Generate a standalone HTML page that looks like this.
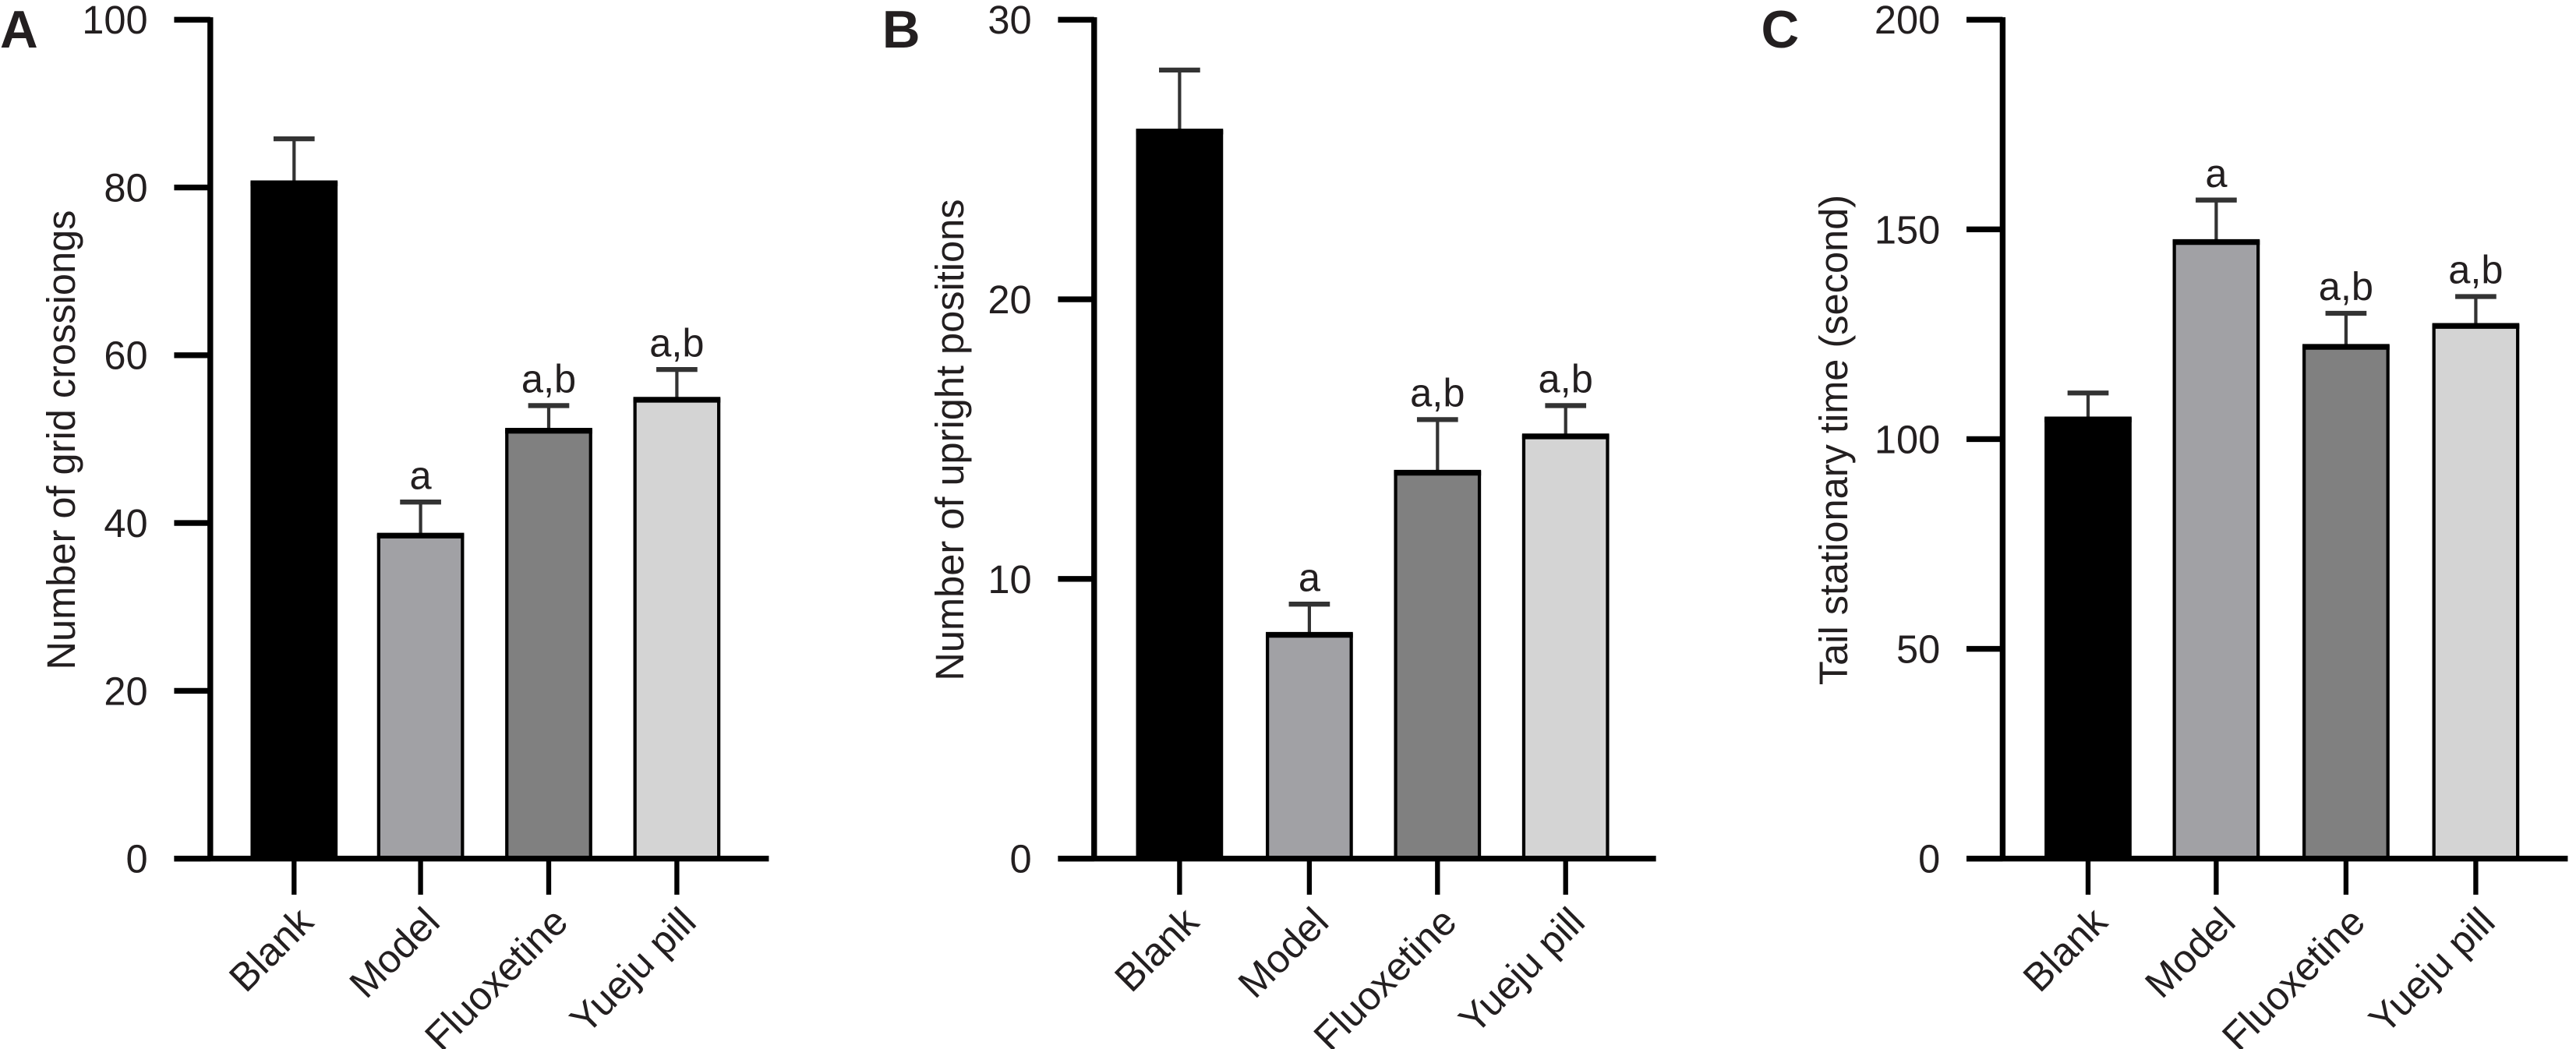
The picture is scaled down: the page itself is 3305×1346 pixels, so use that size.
<!DOCTYPE html>
<html><head><meta charset="utf-8"><style>
html,body{margin:0;padding:0;background:#fff;}
svg{display:block;}
text{font-family:"Liberation Sans","DejaVu Sans",sans-serif;fill:#231f20;}
</style></head><body>
<svg id="s" width="3305" height="1346" viewBox="0 0 1568 639" preserveAspectRatio="none" xmlns="http://www.w3.org/2000/svg"></svg>
<script>
(function(){
var s=document.getElementById('s'),h='';
var cols=['#000','#a1a1a5','#808080','#d4d4d4'];
var names=['Blank','Model','Fluoxetine','Yueju pill'];
var panels=[
 {L:'A',lx:0,ax:128,xe:468,max:100,step:20,lab:'Number of grid crossiongs',ylx:37,
  c:[179,256,334,412],v:[[80.5,85.8,''],[38.5,42.5,'a'],[51,54,'a,b'],[54.7,58.3,'a,b']]},
 {L:'B',lx:537,ax:666,xe:1008,max:30,step:10,lab:'Number of upright positions',ylx:578,
  c:[718,797,875,953],v:[[26,28.2,''],[8,9.1,'a'],[13.8,15.7,'a,b'],[15.1,16.2,'a,b']]},
 {L:'C',lx:1072,ax:1219,xe:1563,max:200,step:50,lab:'Tail stationary time (second)',ylx:1116,
  c:[1271,1349,1428,1507],v:[[104.7,111,''],[147,157,'a'],[122,130,'a,b'],[127,134,'a,b']]}
];
var yTop=12,zero=523;
panels.forEach(function(p){
 function Y(v){return zero-(zero-yTop)*v/p.max;}
 h+='<text x="'+p.lx+'" y="29" font-size="32" font-weight="bold">'+p.L+'</text>';
 for(var i=0;i<p.c.length;i++){
  var c=p.c[i],d=p.v[i],yt=Y(d[0]);
  h+='<line x1="'+c+'" y1="'+yt+'" x2="'+c+'" y2="'+Y(d[1])+'" stroke="#333" stroke-width="2"/>';
  h+='<line x1="'+(c-12.5)+'" y1="'+Y(d[1])+'" x2="'+(c+12.5)+'" y2="'+Y(d[1])+'" stroke="#333" stroke-width="3"/>';
  h+='<rect x="'+(c-25.5)+'" y="'+yt+'" width="51" height="'+(zero-yt)+'" fill="'+cols[i]+'" stroke="#000" stroke-width="2"/>';
  h+='<line x1="'+(c-26.5)+'" y1="'+yt+'" x2="'+(c+26.5)+'" y2="'+yt+'" stroke="#000" stroke-width="3.5"/>';
  if(d[2])h+='<text x="'+c+'" y="'+(Y(d[1])-8)+'" font-size="24" text-anchor="middle">'+d[2]+'</text>';
  h+='<line x1="'+c+'" y1="'+zero+'" x2="'+c+'" y2="545" stroke="#000" stroke-width="3"/>';
  h+='<text transform="translate('+(c+13)+',563) rotate(-45)" font-size="24" text-anchor="end">'+names[i]+'</text>';
 }
 h+='<line x1="'+p.ax+'" y1="'+(yTop-1.5)+'" x2="'+p.ax+'" y2="'+zero+'" stroke="#000" stroke-width="3.5"/>';
 h+='<line x1="'+(p.ax-22)+'" y1="'+zero+'" x2="'+p.xe+'" y2="'+zero+'" stroke="#000" stroke-width="3.5"/>';
 for(var v=0;v<=p.max;v+=p.step){
  var y=Y(v);
  h+='<line x1="'+(p.ax-22)+'" y1="'+y+'" x2="'+p.ax+'" y2="'+y+'" stroke="#000" stroke-width="3.5"/>';
  h+='<text x="'+(p.ax-38)+'" y="'+(y+8.5)+'" font-size="24" text-anchor="end">'+v+'</text>';
 }
 h+='<text transform="translate('+(p.ylx+8.5)+',268) rotate(-90)" font-size="24" text-anchor="middle">'+p.lab+'</text>';
});
s.innerHTML=h;
})();
</script>
</body></html>
